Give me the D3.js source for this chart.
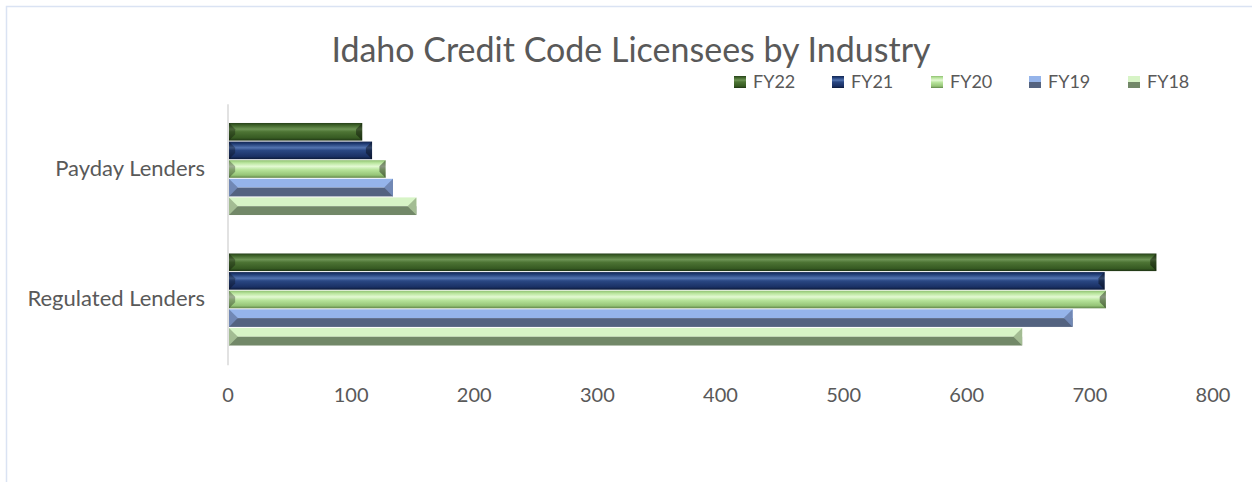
<!DOCTYPE html>
<html><head><meta charset="utf-8">
<script src="https://cdn.jsdelivr.net/npm/d3@7"></script>
<style>
html,body{margin:0;padding:0;background:#fff;}
svg{display:block;font-family:Lato,"Open Sans",sans-serif;}
</style></head>
<body>
<svg id="chart" width="1252" height="482"></svg>
<script>
const categories = ["Payday Lenders", "Regulated Lenders"];
const seriesNames = ["FY22", "FY21", "FY20", "FY19", "FY18"];
const fy22 = [109, 754];
const fy21 = [117, 712];
const fy20 = [128, 713];
const fy19 = [134, 686];
const fy18 = [153, 645];
const seriesValues = [fy22, fy21, fy20, fy19, fy18];
const xTicks = [0, 100, 200, 300, 400, 500, 600, 700, 800];
const title = "Idaho Credit Code Licensees by Industry";

const svg = d3.select("#chart");
const defs = svg.append("defs");

// border
svg.append("rect").attr("x", 6.5).attr("y", 6.5).attr("width", 1260).attr("height", 500)
  .attr("fill", "none").attr("stroke", "#dae3f3").attr("stroke-width", 1.5);

const x = d3.scaleLinear().domain([0, 800]).range([228, 1213]);
const y0 = d3.scaleBand().domain(categories).range([104.25, 365.25]).paddingInner(0.287).paddingOuter(0.1435);
const y1 = d3.scaleBand().domain(seriesNames).range([0, y0.bandwidth()]);

const styles = {
  FY22: {type: "glossy", stops: [[0, "#26401a"], [0.12, "#3d6128"], [0.35, "#6d9455"], [0.5, "#4d7434"], [0.85, "#365a22"], [1, "#1f3414"]]},
  FY21: {type: "glossy", stops: [[0, "#132650"], [0.12, "#1f3b73"], [0.35, "#5475b0"], [0.5, "#2a4783"], [0.85, "#1a3064"], [1, "#0c1a38"]]},
  FY20: {type: "glossy", stops: [[0, "#8fbf72"], [0.15, "#b9e59d"], [0.35, "#e3f9d3"], [0.55, "#b6e39a"], [0.85, "#95c477"], [1, "#5f8448"]]},
  FY19: {type: "bevel", top: "#95b4ea", bottom: "#546380", mid: "#7188b5"},
  FY18: {type: "bevel", top: "#d7f4c6", bottom: "#728868", mid: "#a3bc93"}
};
Object.entries(styles).forEach(([k, s]) => {
  if (s.type === "glossy") {
    const g = defs.append("linearGradient").attr("id", "g" + k).attr("x1", 0).attr("y1", 0).attr("x2", 0).attr("y2", 1);
    s.stops.forEach(st => g.append("stop").attr("offset", st[0]).attr("stop-color", st[1]));
  } else {
    const g = defs.append("linearGradient").attr("id", "g" + k).attr("x1", 0).attr("y1", 0).attr("x2", 0).attr("y2", 1);
    g.append("stop").attr("offset", 0.5).attr("stop-color", s.top);
    g.append("stop").attr("offset", 0.5).attr("stop-color", s.bottom);
  }
});

// axis line
svg.append("line").attr("x1", x(0)).attr("x2", x(0)).attr("y1", y0.range()[0]).attr("y2", y0.range()[1])
  .attr("stroke", "#d9d9d9").attr("stroke-width", 1.5);

// bars
seriesNames.forEach((name, si) => {
  const s = styles[name];
  categories.forEach((cat, ci) => {
    const v = seriesValues[si][ci];
    const top = y0(cat) + y1(name);
    const h = y1.bandwidth() - 1;
    const xa = x(0) + 1, xb = x(v);
    const g = svg.append("g");
    if (s.type === "glossy") {
      g.append("rect").attr("x", xa).attr("y", top).attr("width", xb - xa).attr("height", h).attr("fill", `url(#g${name})`);
      const b = h * 0.35;
      g.append("path").attr("d", `M${xb - b},${top + b}L${xb},${top}L${xb},${top + h}L${xb - b},${top + h - b}Z`).attr("fill", "#000").attr("opacity", 0.4);
      g.append("path").attr("d", `M${xa},${top}L${xa + b},${top + b}L${xa + b},${top + h - b}L${xa},${top + h}Z`).attr("fill", "#000").attr("opacity", 0.3);
    } else {
      const m = h / 2;
      g.append("rect").attr("x", xa).attr("y", top).attr("width", xb - xa).attr("height", m).attr("fill", s.top);
      g.append("rect").attr("x", xa).attr("y", top + m).attr("width", xb - xa).attr("height", h - m).attr("fill", s.bottom);
      g.append("path").attr("d", `M${xa},${top}L${xa + m},${top + m}L${xa},${top + h}Z`).attr("fill", s.mid);
      g.append("path").attr("d", `M${xb},${top}L${xb - m},${top + m}L${xb},${top + h}Z`).attr("fill", s.mid);
    }
  });
});

// x tick labels
svg.append("g").selectAll("text").data(xTicks).join("text")
  .attr("x", d => x(d)).attr("y", 402).attr("text-anchor", "middle")
  .attr("font-size", 20).attr("fill", "#595959").text(d => d);

// category labels
svg.append("g").selectAll("text").data(categories).join("text")
  .attr("x", 205).attr("y", d => y0(d) + y0.bandwidth() / 2 + 6).attr("text-anchor", "end")
  .attr("font-size", 22).attr("fill", "#595959").text(d => d);

// title
svg.append("text").attr("x", 631).attr("y", 62).attr("text-anchor", "middle")
  .attr("font-size", 34).attr("fill", "#595959").text(title);

// legend
const legendX = [734, 832, 931, 1029, 1128];
const lg = svg.append("g");
seriesNames.forEach((name, i) => {
  lg.append("rect").attr("x", legendX[i]).attr("y", 76).attr("width", 12).attr("height", 12).attr("fill", `url(#g${name})`);
  lg.append("text").attr("x", legendX[i] + 19).attr("y", 88).attr("font-size", 18).attr("fill", "#595959").text(name);
});
</script>
</body></html>
